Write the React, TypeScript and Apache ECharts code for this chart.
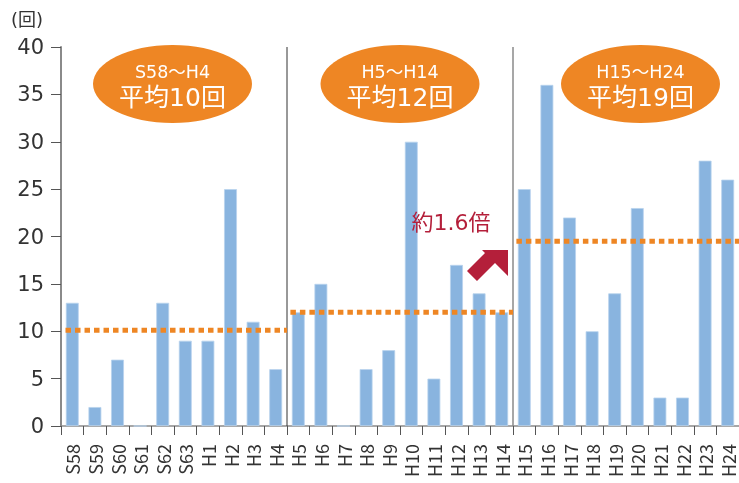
import React, { useEffect, useRef } from "react";
import * as echarts from "echarts";

const categories = [
  "S58", "S59", "S60", "S61", "S62", "S63", "H1", "H2", "H3", "H4",
  "H5", "H6", "H7", "H8", "H9", "H10", "H11", "H12", "H13", "H14",
  "H15", "H16", "H17", "H18", "H19", "H20", "H21", "H22", "H23", "H24",
];
const counts = [
  13, 2, 7, 0, 13, 9, 9, 25, 11, 6,
  12, 15, 0, 6, 8, 30, 5, 17, 14, 12,
  25, 36, 22, 10, 14, 23, 3, 3, 28, 26,
];
const yTicks = [0, 5, 10, 15, 20, 25, 30, 35, 40];
// period averages (dashed lines), spans given in category-index units
const avgValues = [10.1, 12, 19.5];
const avgSpans = [
  [0.2, 10],
  [10.15, 20],
  [20.15, 30],
];
const periodLabels = ["S58～H4", "H5～H14", "H15～H24"];
const periodAvgLabels = ["平均10回", "平均12回", "平均19回"];
const separators = [10, 20];
const ratioLabel = "約1.6倍";
const unitLabel = "(回)";

const FONT = '"Noto Sans CJK JP", "Noto Sans", sans-serif';
const WFONT = '"DejaVu Sans", "Noto Sans CJK JP", sans-serif';
const ORANGE = "#ee8624";
const BAR = "#89b4df";
const CRIMSON = "#b41f3a";

export default function App() {
  const ref = useRef<HTMLDivElement>(null);
  useEffect(() => {
    if (!ref.current) return;
    const chart = echarts.init(ref.current, null, { renderer: "svg" });

    const ellipseCenters = [172.5, 400, 640.5];
    const graphics: any[] = [];
    ellipseCenters.forEach((cx, i) => {
      graphics.push({
        type: "ellipse",
        shape: { cx, cy: 84, rx: 79.5, ry: 39 },
        style: { fill: ORANGE },
        z: 10,
      });
      graphics.push({
        type: "text",
        x: cx,
        y: 72,
        style: {
          text: periodLabels[i],
          fill: "#fff",
          font: `normal 17.5px ${WFONT}`,
          lineHeight: 17,
          align: "center",
          verticalAlign: "middle",
        },
        z: 11,
      });
      graphics.push({
        type: "text",
        x: cx,
        y: 97,
        style: {
          text: periodAvgLabels[i],
          fill: "#fff",
          font: `normal 25px ${WFONT}`,
          lineHeight: 25,
          align: "center",
          verticalAlign: "middle",
        },
        z: 11,
      });
    });
    graphics.push({
      type: "text",
      x: 11,
      y: 19,
      style: {
        text: unitLabel,
        fill: "#333",
        font: `normal 18px ${WFONT}`,
        align: "left",
        verticalAlign: "middle",
      },
      z: 11,
    });
    graphics.push({
      type: "text",
      x: 451,
      y: 222,
      style: {
        text: ratioLabel,
        fill: CRIMSON,
        font: `normal 22px ${WFONT}`,
        align: "center",
        verticalAlign: "middle",
      },
      z: 11,
    });
    graphics.push({
      type: "polygon",
      shape: {
        points: [
          [508, 250],
          [482, 250],
          [485, 253],
          [467, 271],
          [477, 281],
          [495, 263],
          [508, 276],
        ],
      },
      style: { fill: CRIMSON },
      z: 11,
    });

    const avgSeries = avgValues.map((v, i) => ({
      type: "line",
      xAxisIndex: 1,
      yAxisIndex: 0,
      data: [
        [avgSpans[i][0], v],
        [avgSpans[i][1], v],
      ],
      symbol: "none",
      silent: true,
      lineStyle: { color: ORANGE, width: 5, type: [5.5, 4] },
      z: 5,
    }));
    const sepSeries = separators.map((s, i) => ({
      type: "line",
      xAxisIndex: 1,
      yAxisIndex: 0,
      data: [
        [s, 0],
        [s, 40],
      ],
      symbol: "none",
      silent: true,
      lineStyle: { color: i === 0 ? "#333" : "#8a8a8a", width: i === 0 ? 1 : 1.5 },
      z: 4,
    }));

    chart.setOption({
      animation: false,
      textStyle: { fontFamily: FONT },
      grid: { left: 61, right: 0, top: 47, bottom: 57, containLabel: false },
      xAxis: [
        {
          type: "category",
          data: categories,
          axisLine: { lineStyle: { color: "#8a8a8a", width: 1.5 } },
          axisTick: { show: true, length: 9, lineStyle: { color: "#555", width: 1 } },
          axisLabel: {
            rotate: 90,
            interval: 0,
            margin: 18,
            fontSize: 18,
            lineHeight: 16,
            color: "#333",
            fontFamily: FONT,
          },
          splitLine: { show: false },
        },
        { type: "value", min: 0, max: 30, show: false },
      ],
      yAxis: {
        type: "value",
        min: 0,
        max: 40,
        interval: 5,
        axisLine: { show: true, lineStyle: { color: "#8a8a8a", width: 2 } },
        axisTick: { show: true, length: 10, lineStyle: { color: "#555", width: 1 } },
        axisLabel: {
          fontSize: 21,
          color: "#333",
          margin: 17,
          fontFamily: WFONT,
          formatter: (v: number) => (yTicks.includes(v) ? String(v) : ""),
        },
        splitLine: { show: false },
      },
      series: [
        {
          type: "bar",
          data: counts,
          barWidth: "57%",
          itemStyle: { color: BAR, borderColor: "#b9d3ee", borderWidth: 0.8 },
          z: 2,
        },
        ...avgSeries,
        ...sepSeries,
      ],
      graphic: graphics,
    });
    return () => chart.dispose();
  }, []);
  return (
    <div
      ref={ref}
      style={{ position: "fixed", left: 0, top: 0, width: 739, height: 483 }}
    />
  );
}
